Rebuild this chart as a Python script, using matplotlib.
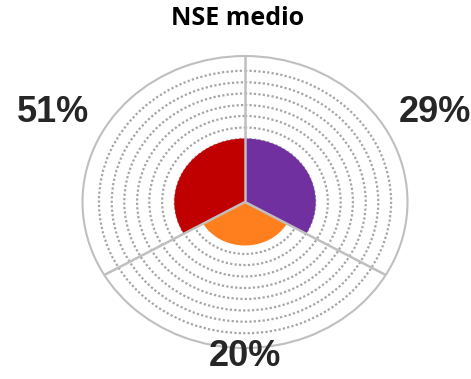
import numpy as np
import matplotlib.pyplot as plt

# data
categories = ['Morado', 'Naranja', 'Rojo']
shares = [29, 20, 51]              # percent labels
radii = [0.435, 0.298, 0.435]      # sector length, fraction of outer ring
colors = ['#7030A0', '#FF7F1E', '#C00000']
rings = [0.356, 0.432, 0.51, 0.589, 0.664, 0.743, 0.82, 0.899]

n = len(categories)
width = 2 * np.pi / n
theta = np.arange(n) * width

fig = plt.figure(figsize=(4.71, 3.79), dpi=100)
ax = fig.add_axes([82.5 / 471, (379 - 348) / 379, 325 / 471, 292 / 379],
                  projection='polar')
ax.set_aspect('auto')
ax.set_theta_zero_location('N')
ax.set_theta_direction(-1)
ax.set_ylim(0, 1)

ax.bar(theta, radii, width=width, align='edge', color=colors,
       edgecolor='none', zorder=2)

# dotted rings
ax.set_yticks(rings)
ax.set_yticklabels([])
ax.yaxis.grid(True, color='#A6A6A6', linestyle=(0, (1, 1)), linewidth=1.6)
ax.set_xticks(theta)
ax.set_xticklabels([])
ax.xaxis.grid(False)
ax.spines['polar'].set_color('#BFBFBF')
ax.spines['polar'].set_linewidth(1.5)

# spokes over the sectors
for t in theta:
    ax.plot([t, t], [0, 1], color='#BFBFBF', lw=1.8, zorder=3,
            solid_capstyle='butt')

# percent labels
label_pos = [(np.deg2rad(62.4), 1.32), (np.pi, 1.055), (np.deg2rad(297.6), 1.33)]
for (t, r), s in zip(label_pos, shares):
    ax.text(t, r, f'{s}%', ha='center', va='center', fontsize=26,
            fontweight='bold', color='#262626', family='Liberation Sans',
            clip_on=False)

fig.text(0.504, 0.952, 'NSE medio', ha='center', va='center', fontsize=18,
         fontweight='bold', color='black', family='Open Sans')

fig.savefig('out.png', dpi=100)
